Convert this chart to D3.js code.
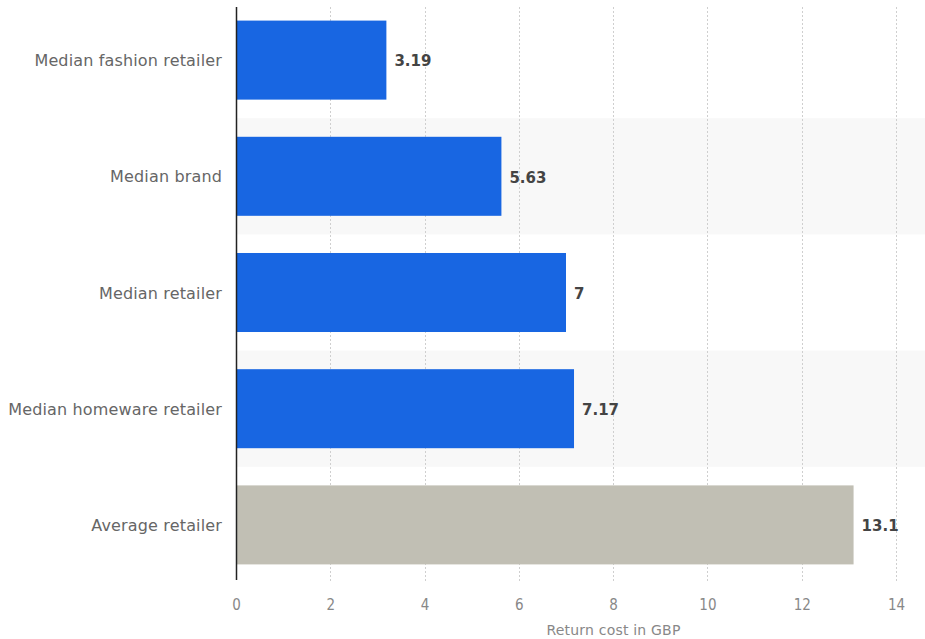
<!DOCTYPE html>
<html>
<head>
<meta charset="utf-8">
<script src="https://cdn.jsdelivr.net/npm/d3@7"></script>
<style>
  html, body { margin: 0; padding: 0; background: #fff; }
  svg { display: block; font-family: "DejaVu Sans", "Noto Sans", sans-serif; }
</style>
</head>
<body>
<svg id="chart" width="925" height="639"></svg>
<script>
// Return cost per parcel by retailer type (GBP)
const categories = [
  "Median fashion retailer",
  "Median brand",
  "Median retailer",
  "Median homeware retailer",
  "Average retailer"
];
const values = [3.19, 5.63, 7, 7.17, 13.1];
const highlight = [false, false, false, false, true];
const xTicks = [0, 2, 4, 6, 8, 10, 12, 14];
const xTitle = "Return cost in GBP";

const svg = d3.select("#chart");
const W = 925;
const left = 236, plotTop = 2, plotBottom = 583;

const x = d3.scaleLinear().domain([0, 14]).range([left, 896]);
const y = d3.scaleBand().domain(categories).range([plotTop, plotBottom]).paddingInner(0.32).paddingOuter(0.16);
const rowStep = y.step();

// Alternating row bands
svg.append("g").selectAll("rect")
  .data(categories.filter((d, i) => i % 2 === 1))
  .join("rect")
  .attr("x", left)
  .attr("y", d => y(d) - y.paddingInner() * rowStep / 2)
  .attr("width", W - left)
  .attr("height", rowStep)
  .attr("fill", "#f8f8f8");

// Vertical dotted grid lines
svg.append("g").selectAll("line")
  .data(xTicks.filter(t => t > 0))
  .join("line")
  .attr("x1", d => Math.round(x(d)) + 0.5)
  .attr("x2", d => Math.round(x(d)) + 0.5)
  .attr("y1", 7)
  .attr("y2", 581)
  .attr("stroke", "#cfcfcf")
  .attr("stroke-width", 1)
  .attr("stroke-dasharray", "2,2");

// Bars
svg.append("g").selectAll("rect")
  .data(categories)
  .join("rect")
  .attr("x", x(0))
  .attr("y", d => y(d))
  .attr("width", (d, i) => x(values[i]) - x(0))
  .attr("height", y.bandwidth())
  .attr("fill", (d, i) => highlight[i] ? "#c1bfb4" : "#1866e2");

// Value labels
svg.append("g").selectAll("text")
  .data(categories)
  .join("text")
  .attr("x", (d, i) => x(values[i]) + 8)
  .attr("y", d => y(d) + y.bandwidth() / 2 + 1)
  .attr("dy", "0.35em")
  .attr("font-size", 15)
  .attr("font-weight", 700)
  .attr("fill", "#444")
  .text((d, i) => values[i]);

// Category axis
const yAxis = svg.append("g")
  .attr("transform", `translate(${left},1)`)
  .call(d3.axisLeft(y).tickSize(0).tickPadding(14));
yAxis.select(".domain").remove();
yAxis.selectAll("text")
  .attr("font-size", 16)
  .attr("letter-spacing", "0.15px")
  .attr("fill", "#666")
  .attr("font-family", "'DejaVu Sans', 'Noto Sans', sans-serif");

// Value axis labels
const xAxis = svg.append("g")
  .attr("transform", `translate(0,${plotBottom})`)
  .call(d3.axisBottom(x).tickValues(xTicks).tickSize(0).tickPadding(16).tickFormat(d3.format("d")));
xAxis.select(".domain").remove();
xAxis.selectAll("text")
  .attr("font-size", 15)
  .attr("fill", "#888")
  .attr("font-family", "'DejaVu Sans Condensed', 'DejaVu Sans', sans-serif");

// Baseline
svg.append("line")
  .attr("x1", left + 0.5).attr("x2", left + 0.5)
  .attr("y1", 7).attr("y2", 580)
  .attr("stroke", "#222")
  .attr("stroke-width", 1.5);

// Axis title
svg.append("text")
  .attr("x", 613.5)
  .attr("y", 635)
  .attr("text-anchor", "middle")
  .attr("font-size", 14)
  .attr("letter-spacing", "0.2px")
  .attr("fill", "#888")
  .text(xTitle);
</script>
</body>
</html>
